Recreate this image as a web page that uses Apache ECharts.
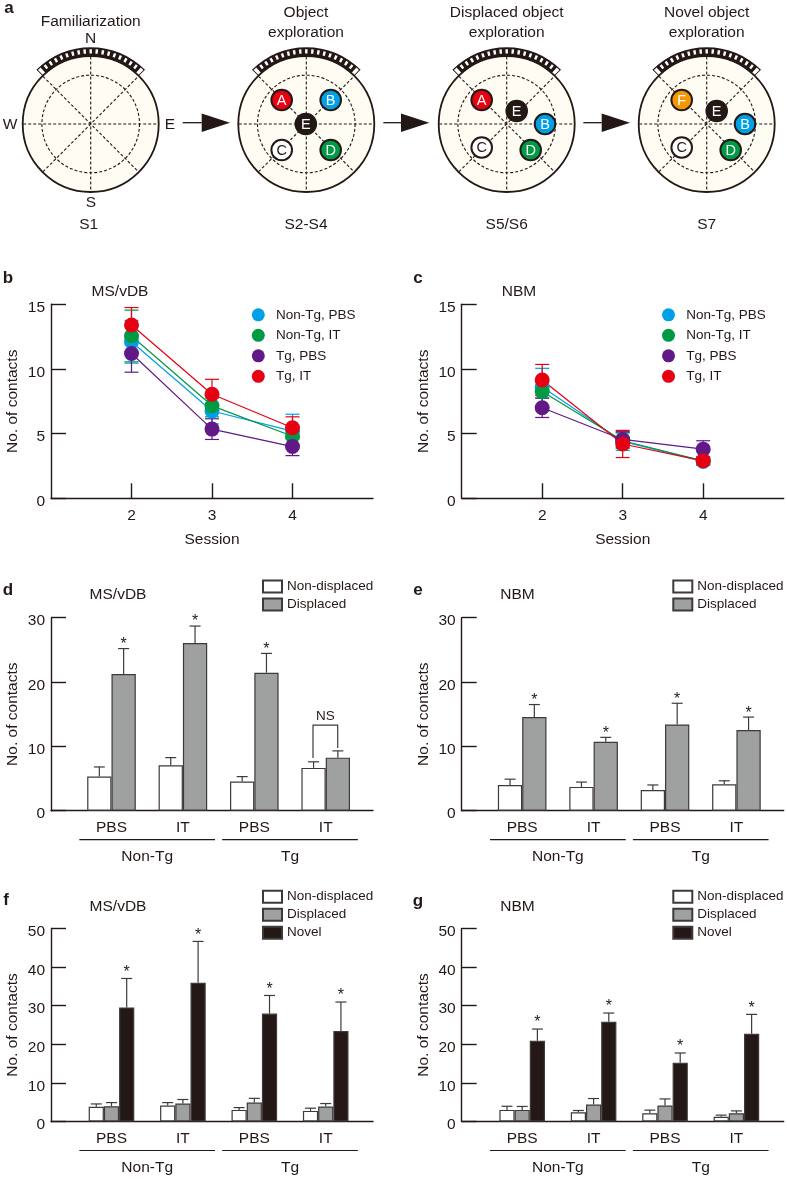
<!DOCTYPE html>
<html><head><meta charset="utf-8">
<style>html,body{margin:0;padding:0;background:#fff}#c{width:787px;height:1179px}</style>
<script src="https://cdn.jsdelivr.net/npm/echarts@6/dist/echarts.min.js"></script>
</head><body><div id="c"></div>
<script>
// ---------- data ----------
const sessions = [2, 3, 4];
const lineNames = ['Non-Tg, PBS', 'Non-Tg, IT', 'Tg, PBS', 'Tg, IT'];
const bNonTgPbs = [12.1, 6.75, 5.2],  bNonTgPbsErr = [1.65, 1.0, 1.3];
const bNonTgIt  = [12.55, 7.15, 4.8], bNonTgItErr  = [2.0, 0.85, 0.8];
const bTgPbs    = [11.2, 5.35, 4.0],  bTgPbsErr    = [1.45, 0.8, 0.7];
const bTgIt     = [13.4, 8.05, 5.45], bTgItErr     = [1.35, 1.15, 0.85];
const cNonTgPbs = [8.6, 4.4, 2.85],   cNonTgPbsErr = [1.45, 0.7, 0.3];
const cNonTgIt  = [8.25, 4.45, 2.9],  cNonTgItErr  = [0.5, 0.6, 0.3];
const cTgPbs    = [7.0, 4.55, 3.8],   cTgPbsErr    = [0.75, 0.6, 0.65];
const cTgIt     = [9.15, 4.2, 2.9],   cTgItErr     = [1.2, 1.05, 0.3];

const treatments = ['PBS', 'IT', 'PBS', 'IT'];
const groupNames = ['Non-Tg', 'Tg'];
const groupStart = [-0.45, 1.55], groupEnd = [1.45, 3.45];
const barPositions = [0, 1, 2, 3];

const dNonDisp = [5.3, 7.05, 4.55, 6.65],   dNonDispTop = [6.8, 8.25, 5.3, 7.6];
const dDisp    = [21.25, 26.05, 21.45, 8.25], dDispTop  = [25.2, 28.7, 24.45, 9.3];
const dStars   = [1, 1, 1, 0];
const eNonDisp = [4.0, 3.7, 3.2, 4.1],      eNonDispTop = [4.9, 4.45, 4.0, 4.65];
const eDisp    = [14.55, 10.7, 13.4, 12.55], eDispTop   = [16.5, 11.4, 16.7, 14.55];
const eStars   = [1, 1, 1, 1];
const fNonDisp = [3.8, 4.15, 3.0, 2.75],    fNonDispTop = [4.55, 4.9, 3.6, 3.45];
const fDisp    = [3.95, 4.65, 4.9, 3.9],    fDispTop    = [4.9, 5.7, 6.0, 4.65];
const fNovel   = [29.55, 35.95, 27.95, 23.45], fNovelTop = [37.05, 46.65, 32.65, 30.95];
const fStars   = [1, 1, 1, 1];
const gNonDisp = [3.0, 2.4, 2.15, 1.2],     gNonDispTop = [3.95, 2.85, 2.95, 1.65];
const gDisp    = [3.0, 4.4, 4.15, 2.15],    gDispTop    = [3.9, 5.95, 5.85, 2.75];
const gNovel   = [20.95, 25.85, 15.25, 22.75], gNovelTop = [23.95, 28.1, 17.75, 27.75];
const gStars   = [1, 1, 1, 1];
// NS bracket of panel d: x left, x right, y left end, y right end, y top
const dBracket = [2.822, 3.168, 8.2, 9.75, 13.3];

// ---------- styles ----------
const FONT = '"Liberation Sans", Arial, sans-serif';
const INK = '#231815', EDGE = '#3e3a39';
const lineColors = ['#00a0e9', '#009944', '#601986', '#e60012'];
const barFill = {nd: '#ffffff', d: '#9fa0a0', n: '#231815'};
const xMin = -0.847, xMax = 3.662;

const grids = [], xAxes = [], yAxes = [], series = [], legends = [], graphics = [];

function txt(text, x, y, size, opts) {
  graphics.push({type: 'text', silent: true, z: 20, style: Object.assign({
    text, x, y, fill: INK, font: (opts && opts.bold ? 'bold ' : '') + size + 'px ' + FONT,
    textAlign: 'center', textVerticalAlign: 'middle'
  }, {})});
}

function addGrid(left, top, height, yMax, yInt, xCfg) {
  const idx = grids.length;
  grids.push({left, top, width: 322, height, containLabel: false, outerBoundsMode: 'none'});
  yAxes.push({gridIndex: idx, type: 'value', min: 0, max: yMax, interval: yInt,
    splitLine: {show: false},
    name: 'No. of contacts', nameLocation: 'middle', nameGap: 30,
    nameTextStyle: {fontFamily: FONT, fontSize: 15.5, color: INK},
    axisLine: {show: true, onZero: false, lineStyle: {color: INK, width: 1.4}},
    axisTick: {show: true, inside: true, length: 15, lineStyle: {color: INK, width: 1.4}},
    axisLabel: {margin: 6, fontFamily: FONT, fontSize: 15.5, color: INK, verticalAlign: 'top', lineHeight: 7}});
  xAxes.push(Object.assign({gridIndex: idx, type: 'value', splitLine: {show: false},
    axisLine: {show: true, onZero: false, lineStyle: {color: INK, width: 1.4}}}, xCfg));
  return idx;
}

function lineErrorSeries(g, values, errs, color) {
  series.push({type: 'custom', xAxisIndex: g, yAxisIndex: g, z: 2, silent: true,
    data: sessions.map((s, i) => [s, values[i], errs[i]]),
    encode: {x: 0, y: 1},
    renderItem(params, api) {
      const x = api.value(0), v = api.value(1), e = api.value(2);
      const top = api.coord([x, v + e]), bot = api.coord([x, v - e]);
      const st = {stroke: color, lineWidth: 1.2, fill: null};
      const cap = 7;
      return {type: 'group', children: [
        {type: 'line', shape: {x1: top[0], y1: top[1], x2: bot[0], y2: bot[1]}, style: st},
        {type: 'line', shape: {x1: top[0] - cap, y1: top[1], x2: top[0] + cap, y2: top[1]}, style: st},
        {type: 'line', shape: {x1: bot[0] - cap, y1: bot[1], x2: bot[0] + cap, y2: bot[1]}, style: st}
      ]};
    }});
}

function linePanel(left, top, vals, errs) {
  const g = addGrid(left, top, 194, 15, 5, {min: 1, max: 5, interval: 1,
    name: 'Session', nameLocation: 'middle', nameGap: 33,
    nameTextStyle: {fontFamily: FONT, fontSize: 15.5, color: INK},
    axisTick: {show: true, inside: true, length: 15, customValues: sessions, lineStyle: {color: INK, width: 1.4}},
    axisLabel: {margin: 9, fontFamily: FONT, fontSize: 15.5, color: INK, customValues: sessions}});
  vals.forEach((v, i) => lineErrorSeries(g, v, errs[i], lineColors[i]));
  vals.forEach((v, i) => series.push({type: 'line', name: lineNames[i], xAxisIndex: g, yAxisIndex: g,
    z: 3, silent: true, symbol: 'circle', symbolSize: 15, showSymbol: true,
    data: sessions.map((s, j) => [s, v[j]]),
    lineStyle: {color: lineColors[i], width: 1.2}, itemStyle: {color: lineColors[i]}}));
}

function barPanel(left, top, height, yMax, yInt, sets, barW, stars, starLift) {
  const g = addGrid(left, top, height, yMax, yInt, {min: xMin, max: xMax,
    axisTick: {show: false},
    axisLabel: {margin: 9, fontFamily: FONT, fontSize: 15.5, color: INK, customValues: barPositions,
      formatter: v => treatments[v]}});
  const n = sets.length;
  sets.forEach((s, k) => {
    series.push({type: 'bar', name: s.name, xAxisIndex: g, yAxisIndex: g, z: 3, silent: true,
      barWidth: barW, barGap: '0%', animation: false,
      data: barPositions.map(i => [i, s.values[i]]),
      itemStyle: {color: s.fill, borderColor: EDGE, borderWidth: 1.2}});
    const off = (k - (n - 1) / 2) * barW;
    const isLast = k === n - 1;
    series.push({type: 'custom', xAxisIndex: g, yAxisIndex: g, z: 2, silent: true,
      data: barPositions.map(i => [i, s.values[i], s.tops[i]]),
      encode: {x: 0, y: 1},
      renderItem(params, api) {
        const x = api.value(0);
        const a = api.coord([x, api.value(1)]), b = api.coord([x, api.value(2)]);
        const px = a[0] + off;
        const st = {stroke: EDGE, lineWidth: 1.2, fill: null};
        const kids = [
          {type: 'line', shape: {x1: px, y1: a[1], x2: px, y2: b[1]}, style: st},
          {type: 'line', shape: {x1: px - 5.5, y1: b[1], x2: px + 5.5, y2: b[1]}, style: st}
        ];
        if (isLast && stars[params.dataIndex]) {
          kids.push({type: 'text', style: {text: '*', x: px, y: b[1] - starLift,
            fill: INK, font: '16px ' + FONT, align: 'center', verticalAlign: 'middle'}});
        }
        return {type: 'group', children: kids};
      }});
  });
  // treatment group rules and names below the axis
  series.push({type: 'custom', xAxisIndex: g, yAxisIndex: g, z: 4, silent: true, clip: false,
    data: groupNames.map((nm, i) => [groupStart[i], groupEnd[i]]),
    encode: {x: [0, 1]},
    renderItem(params, api) {
      const p1 = api.coord([api.value(0), 0]), p2 = api.coord([api.value(1), 0]);
      const y = p1[1] + 29;
      return {type: 'group', children: [
        {type: 'line', shape: {x1: p1[0], y1: y, x2: p2[0], y2: y}, style: {stroke: INK, lineWidth: 1.2, fill: null}},
        {type: 'text', style: {text: groupNames[params.dataIndex], x: (p1[0] + p2[0]) / 2, y: p1[1] + 46,
          fill: INK, font: '15.5px ' + FONT, align: 'center', verticalAlign: 'middle'}}
      ]};
    }});
  return g;
}

function lineLegend(left, top) {
  legends.push({data: lineNames, orient: 'vertical', left, top, padding: 0, icon: 'circle',
    itemWidth: 25.5, itemHeight: 13, itemGap: 6.5, selectedMode: false,
    textStyle: {fontFamily: FONT, fontSize: 13.5, color: INK}});
}
function barLegend(left, top, names) {
  legends.push({data: names, orient: 'vertical', left, top, padding: 0, icon: 'rect',
    itemWidth: 19, itemHeight: 12, itemGap: 4, selectedMode: false,
    textStyle: {fontFamily: FONT, fontSize: 13.5, color: INK}});
}

// panels b, c
linePanel(51, 304.3, [bNonTgPbs, bNonTgIt, bTgPbs, bTgIt], [bNonTgPbsErr, bNonTgItErr, bTgPbsErr, bTgItErr]);
linePanel(461.7, 304.3, [cNonTgPbs, cNonTgIt, cTgPbs, cTgIt], [cNonTgPbsErr, cNonTgItErr, cTgPbsErr, cTgItErr]);
lineLegend(251.8, 307.8);
lineLegend(662, 307.8);

// panels d, e
const gD = barPanel(51, 617.7, 193, 30, 10, [
  {name: 'Non-displaced', fill: barFill.nd, values: dNonDisp, tops: dNonDispTop},
  {name: 'Displaced', fill: barFill.d, values: dDisp, tops: dDispTop}], 24.3, dStars, 4);
barPanel(461.7, 617.7, 193, 30, 10, [
  {name: 'Non-displaced', fill: barFill.nd, values: eNonDisp, tops: eNonDispTop},
  {name: 'Displaced', fill: barFill.d, values: eDisp, tops: eDispTop}], 24.3, eStars, 4);
barLegend(262, 579.5, ['Non-displaced', 'Displaced']);
barLegend(672.3, 579.5, ['Non-displaced', 'Displaced']);

// NS bracket
series.push({type: 'custom', xAxisIndex: gD, yAxisIndex: gD, z: 4, silent: true,
  data: [dBracket], encode: {x: [0, 1], y: [2, 3, 4]},
  renderItem(params, api) {
    const tl = api.coord([api.value(0), api.value(4)]), tr = api.coord([api.value(1), api.value(4)]);
    const bl = api.coord([api.value(0), api.value(2)]), br = api.coord([api.value(1), api.value(3)]);
    return {type: 'group', children: [
      {type: 'polyline', shape: {points: [bl, tl, tr, br]}, style: {stroke: EDGE, lineWidth: 1.2, fill: null}},
      {type: 'text', style: {text: 'NS', x: (tl[0] + tr[0]) / 2, y: tl[1] - 9, fill: INK,
        font: '13.5px ' + FONT, align: 'center', verticalAlign: 'middle'}}
    ]};
  }});

// panels f, g
barPanel(51, 928.5, 193, 50, 10, [
  {name: 'Non-displaced', fill: barFill.nd, values: fNonDisp, tops: fNonDispTop},
  {name: 'Displaced', fill: barFill.d, values: fDisp, tops: fDispTop},
  {name: 'Novel', fill: barFill.n, values: fNovel, tops: fNovelTop}], 15.2, fStars, 6);
barPanel(461.7, 928.5, 193, 50, 10, [
  {name: 'Non-displaced', fill: barFill.nd, values: gNonDisp, tops: gNonDispTop},
  {name: 'Displaced', fill: barFill.d, values: gDisp, tops: gDispTop},
  {name: 'Novel', fill: barFill.n, values: gNovel, tops: gNovelTop}], 15.2, gStars, 6);
barLegend(262, 889.7, ['Non-displaced', 'Displaced', 'Novel']);
barLegend(672.3, 889.7, ['Non-displaced', 'Displaced', 'Novel']);

// panel letters and region titles
txt('a', 9, 8, 17, {bold: 1}); txt('b', 8, 278, 17, {bold: 1}); txt('c', 418, 278, 17, {bold: 1});
txt('d', 8, 590, 17, {bold: 1}); txt('e', 418, 590, 17, {bold: 1});
txt('f', 6, 900, 17, {bold: 1}); txt('g', 418, 901, 17, {bold: 1});
txt('MS/vDB', 120, 291.5, 15.5); txt('NBM', 519, 291.5, 15.5);
txt('MS/vDB', 118, 595, 15.5);   txt('NBM', 517.5, 595, 15.5);
txt('MS/vDB', 118, 907, 15.5);   txt('NBM', 517.5, 907, 15.5);

// ---------- panel a schematic ----------
const cy = 124;
function arena(cx, objects) {
  const add = (type, shape, style, z) => graphics.push({type, shape, style, silent: true, z: z || 10});
  const dash = {stroke: INK, lineWidth: 1.1, lineDash: [3, 2], fill: null};
  // film strip
  add('sector', {cx, cy, r0: 66, r: 76.8, startAngle: -Math.PI * 0.75, endAngle: -Math.PI * 0.25}, {fill: INK}, 8);
  add('sector', {cx, cy, r0: 68, r: 75.5, startAngle: -Math.PI * 0.75 + 0.012, endAngle: -Math.PI * 0.75 + 0.06}, {fill: '#fff'}, 9);
  add('sector', {cx, cy, r0: 68, r: 75.5, startAngle: -Math.PI * 0.25 - 0.06, endAngle: -Math.PI * 0.25 - 0.012}, {fill: '#fff'}, 9);
  const N = 17, a0 = -Math.PI * 0.75 + 0.08, span = Math.PI / 2 - 0.16;
  for (let i = 0; i < N; i++) {
    const s = a0 + span * (i + 0.3) / N, e = a0 + span * (i + 0.7) / N;
    add('sector', {cx, cy, r0: 70.5, r: 74.8, startAngle: s, endAngle: e}, {fill: '#fff'}, 9);
  }
  add('circle', {cx, cy, r: 68}, {fill: '#fffdf3', stroke: INK, lineWidth: 1.8}, 10);
  add('circle', {cx, cy, r: 48.8}, dash, 11);
  const R = 67.5, d = R * Math.SQRT1_2;
  [[-R, 0, R, 0], [0, -R, 0, R], [-d, -d, d, d], [-d, d, d, -d]].forEach(s =>
    add('line', {x1: cx + s[0], y1: cy + s[1], x2: cx + s[2], y2: cy + s[3]}, dash, 11));
  objects.forEach(o => {
    add('circle', {cx: cx + o[1], cy: cy + o[2], r: 10.3}, {fill: o[3], stroke: INK, lineWidth: 2}, 12);
    graphics.push({type: 'text', silent: true, z: 13, style: {text: o[0], x: cx + o[1], y: cy + o[2] + 0.5,
      fill: o[4], font: '14.5px ' + FONT, textAlign: 'center', textVerticalAlign: 'middle'}});
  });
}
const R_ = '#e60012', B_ = '#00a0e9', D_ = '#009944', K_ = '#231815', F_ = '#f39800', W = '#fff';
arena(90.7, []);
arena(306.3, [['A', -24.6, -24, R_, W], ['B', 24.4, -24, B_, W], ['C', -24.6, 26, W, K_], ['D', 24.4, 26, D_, W], ['E', -0.5, 0, K_, W]]);
arena(506.7, [['A', -25, -24, R_, W], ['E', 10, -13, K_, W], ['B', 38.3, 0, B_, W], ['C', -25, 23.5, W, K_], ['D', 24, 26, D_, W]]);
arena(706.7, [['F', -25, -24, F_, W], ['E', 10, -13, K_, W], ['B', 38.3, 0, B_, W], ['C', -25, 23.5, W, K_], ['D', 24, 26, D_, W]]);

[[182.7, 201.7, 230], [383.3, 401, 429.3], [583.3, 601.7, 630]].forEach(a => {
  graphics.push({type: 'line', silent: true, z: 10, shape: {x1: a[0], y1: 122.7, x2: a[1], y2: 122.7}, style: {stroke: INK, lineWidth: 1.3}});
  graphics.push({type: 'polygon', silent: true, z: 10, shape: {points: [[a[1], 113.5], [a[2], 122.7], [a[1], 131.9]]}, style: {fill: INK}});
});

txt('Familiarization', 90.7, 21.5, 15.5);
txt('N', 90.7, 39, 15.5); txt('W', 10, 124.5, 15.5); txt('E', 170, 125, 15.5); txt('S', 91, 203, 15.5);
txt('Object', 306, 12.5, 15.5); txt('exploration', 306, 32.5, 15.5);
txt('Displaced object', 506.7, 12.5, 15.5); txt('exploration', 506.7, 32.5, 15.5);
txt('Novel object', 706.7, 12.5, 15.5); txt('exploration', 706.7, 32.5, 15.5);
txt('S1', 88.7, 225, 15.5); txt('S2-S4', 306, 225, 15.5); txt('S5/S6', 506.7, 225, 15.5); txt('S7', 706.7, 225, 15.5);

const chart = echarts.init(document.getElementById('c'), null, {renderer: 'canvas'});
chart.setOption({
  animation: false, backgroundColor: '#fff', textStyle: {fontFamily: FONT},
  grid: grids, xAxis: xAxes, yAxis: yAxes, series, legend: legends, graphic: {elements: graphics}
});
</script></body></html>
